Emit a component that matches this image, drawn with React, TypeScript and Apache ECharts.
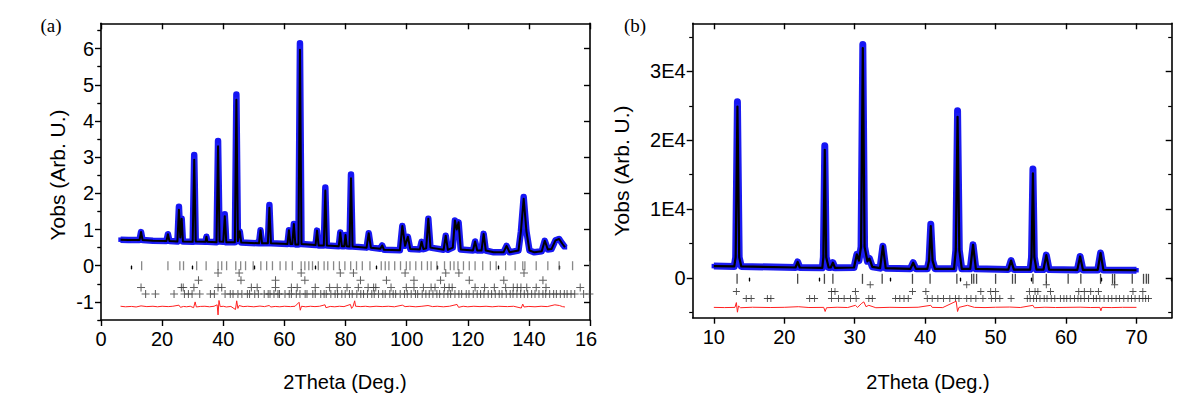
import React, { useEffect, useRef } from "react";
import * as echarts from "echarts";

const FONT = "'Liberation Sans', Arial, Helvetica, sans-serif";
const SERIF = "'Liberation Serif', 'DejaVu Serif', serif";

// ---------- Panel (a) ----------
const xTicksA = [0, 20, 40, 60, 80, 100, 120, 140, 160];
const xMinorA = [10, 30, 50, 70, 90, 110, 130, 150];
const yTicksA = [-1, 0, 1, 2, 3, 4, 5, 6];
const yMinorA = [-1.5, -0.5, 0.5, 1.5, 2.5, 3.5, 4.5, 5.5, 6.5];

// observed intensity [2θ, Yobs]
const obsA: number[][] = [
  [6.4, 0.72], [9, 0.71], [12.6, 0.71], [13.1, 0.93], [13.6, 0.71], [17, 0.69], [21.4, 0.68], [21.9, 0.87], [22.4, 0.68],
  [25.0, 0.67], [25.5, 1.63], [25.95, 0.78], [26.4, 1.3], [26.8, 0.67], [30.0, 0.66], [30.5, 3.06], [31.0, 0.67],
  [34.2, 0.66], [34.5, 0.8], [34.8, 0.66], [37.8, 0.65], [38.3, 3.45], [38.8, 0.67], [40.0, 0.66], [40.5, 1.42], [41.0, 0.65],
  [43.8, 0.65], [44.3, 4.73], [44.8, 0.68], [45.4, 0.95], [45.9, 0.64], [51.7, 0.62], [52.2, 0.98], [52.7, 0.62],
  [54.6, 0.62], [55.1, 1.68], [55.6, 0.62], [61.0, 0.6], [61.5, 0.98], [62.0, 0.6], [62.6, 0.6], [63.1, 1.15], [63.6, 0.59],
  [64.6, 0.59], [65.1, 6.15], [65.6, 0.6], [70.2, 0.57], [70.7, 0.97], [71.2, 0.56], [72.9, 0.56], [73.4, 2.16], [73.9, 0.56],
  [77.8, 0.54], [78.3, 0.92], [78.8, 0.54], [79.6, 0.54], [80.0, 0.85], [80.4, 0.54], [81.3, 0.53], [81.8, 2.52], [82.3, 0.53],
  [86.9, 0.5], [87.6, 0.9], [88.3, 0.5], [91.4, 0.47], [92.0, 0.56], [92.6, 0.44], [97.8, 0.43], [98.6, 1.1], [99.5, 0.55],
  [100.4, 0.8], [101.2, 0.46], [104.3, 0.45], [104.9, 0.66], [105.5, 0.46], [106.4, 0.48], [107.1, 1.3], [107.8, 0.5],
  [112.1, 0.44], [112.8, 0.83], [113.5, 0.44], [115.1, 0.5], [115.8, 1.25], [116.4, 1.0], [117.0, 1.2], [117.7, 0.45],
  [121.7, 0.42], [122.4, 0.67], [123.1, 0.42], [124.5, 0.42], [125.2, 0.88], [125.9, 0.42], [128.5, 0.37], [131.7, 0.37],
  [132.7, 0.55], [133.7, 0.37], [136.6, 0.42], [137.4, 0.95], [138.3, 1.9], [139.2, 0.95], [140.2, 0.42], [141.8, 0.37],
  [144.2, 0.4], [145.2, 0.69], [146.2, 0.45], [147.4, 0.46], [148.7, 0.7], [149.9, 0.74], [151.0, 0.6], [151.8, 0.51],
];
// calculated apex heights where the fit falls short of the observation
const calcPeaksA: number[][] = [
  [25.5, 1.55], [30.5, 2.93], [38.3, 3.3], [40.5, 1.37], [44.3, 4.59], [55.1, 1.6], [65.1, 5.97], [73.4, 2.08], [81.8, 2.42], [138.3, 1.85],
];
// Yobs - Ycalc, shifted
const diffA: number[][] = [
  [6.4, -1.12], [8, -1.135], [10, -1.125], [11.5, -1.14], [13.1, -1.11], [15, -1.13], [17, -1.12], [18.5, -1.135],
  [20, -1.12], [22, -1.13], [23.5, -1.12], [25.5, -1.09], [26, -1.15], [27, -1.125], [28, -1.135], [29.2, -1.12],
  [30.3, -1.16], [30.8, -1.0], [31.2, -1.14], [32.5, -1.125], [34, -1.12], [35.5, -1.135], [37, -1.12], [38.0, -1.08],
  [38.3, -1.36], [38.6, -0.96], [39, -1.13], [40, -1.12], [41, -1.14], [42.5, -1.125], [44.0, -1.21], [44.4, -0.97],
  [44.8, -1.18], [45.2, -1.1], [46.5, -1.13], [48, -1.12], [50, -1.135], [52, -1.115], [53.5, -1.13], [55, -1.1],
  [55.6, -1.14], [57, -1.125], [58.5, -1.135], [60, -1.12], [62, -1.13], [63.5, -1.12], [64.8, -1.01], [65.2, -1.23],
  [65.6, -1.12], [67, -1.135], [68.5, -1.12], [70, -1.13], [71.5, -1.12], [73.3, -1.08], [73.6, -1.16], [75, -1.125],
  [76.5, -1.135], [78, -1.12], [79.5, -1.13], [81.6, -1.07], [82, -1.18], [82.5, -1.12], [83, -0.97], [83.3, -1.12],
  [85, -1.13], [86.5, -1.12], [88, -1.135], [90, -1.12], [92, -1.13], [94, -1.12], [96, -1.135], [98.6, -1.09],
  [99.5, -1.13], [101, -1.12], [103, -1.135], [105, -1.12], [107, -1.1], [108.5, -1.13], [110, -1.12], [112, -1.135],
  [114, -1.12], [116.5, -1.07], [117, -1.15], [118.5, -1.12], [120, -1.135], [122, -1.12], [124, -1.13], [126, -1.12],
  [128, -1.135], [130, -1.12], [133, -1.13], [135, -1.12], [137.5, -1.17], [138, -1.06], [138.4, -1.14], [140, -1.125],
  [142, -1.135], [144, -1.12], [146, -1.13], [148.5, -1.08], [150, -1.1], [151, -1.13], [151.8, -1.14],
];
// reflection markers
const braggA = [
  13.3, 21.9, 25.8, 27.0, 31.3, 34.4, 38.3, 39.5, 41.1, 44.1, 45.7, 47.3, 49.8, 52.3, 54.2, 56.1, 58.6, 60.5, 62.6, 65.5,
  66.7, 68.0, 69.2, 71.1, 73.0, 74.2, 76.1, 78.0, 79.8, 81.7, 83.6, 85.5, 88.0, 91.7, 93.0, 94.2, 96.1, 98.0, 99.9, 101.1,
  103.0, 104.9, 106.8, 108.0, 109.9, 112.4, 114.3, 115.5, 116.8, 118.6, 120.5, 122.4, 124.9, 127.4, 129.3, 132.4, 135.5,
  138.0, 138.7, 142.4, 146.2, 149.9, 154.3, 159.9,
];
const plusA1 = [38.3, 45.2, 65.5, 78.3, 82.6, 99.5, 112.8, 117.1, 138.4];
const plusA2 = [31.9, 45.8, 57.1, 66.7, 84.9, 93.4, 102.4, 111.1, 120.5, 131.8, 144.6];
const plusA3 = [
  13.1, 26.3, 26.9, 30.4, 38.3, 39.5, 49.2, 51.1, 57.1, 62.3, 64.2, 70.1, 74.8, 77.3, 80.5, 84.2, 87.4, 89.2, 89.9, 94.9,
  99.9, 102.4, 105.5, 108.0, 109.3, 112.4, 113.9, 114.9, 122.4, 125.5, 128.7, 132.4, 134.9, 136.2, 137.4, 139.3, 142.4,
  145.6, 156.8,
];
const plusA4 = [
  14.6, 17.8, 23.9, 27.3, 28.6, 29.8, 32.3, 35.8, 37.1, 40.6, 42.3, 43.2, 44.8, 46.1, 47.9, 48.6, 50.3, 51.5, 53.4, 54.7,
  55.3, 56.6, 57.9, 58.4, 60.2, 61.6, 62.3, 63.9, 65.1, 66.8, 67.4, 69.3, 70.1, 71.9, 73.0, 73.7, 75.2, 76.6, 77.4, 78.8,
  79.9, 81.3, 82.2, 83.7, 85.0, 85.9, 87.2, 88.6, 89.4, 90.8, 92.2, 93.0, 94.5, 95.6, 96.4, 97.9, 99.3, 100.2, 101.5, 102.9,
  103.6, 105.1, 106.3, 107.4, 108.6, 109.9, 110.8, 112.2, 113.5, 114.4, 115.8, 117.1, 118.0, 119.5, 120.4, 121.8, 123.1,
  124.2, 125.3, 126.7, 127.8, 129.0, 130.3, 131.2, 132.6, 133.9, 134.8, 136.1, 137.3, 138.5, 139.6, 140.9, 142.0, 143.3,
  144.6, 145.5, 146.8, 148.1, 149.0, 150.3, 151.6, 152.5, 153.8, 155.0, 157.9, 159.8,
];
const plusLevelsA = [-0.2, -0.4, -0.6, -0.78];

// ---------- Panel (b) ----------
const xTicksB = [10, 20, 30, 40, 50, 60, 70];
const xMinorB = [15, 25, 35, 45, 55, 65, 75];
const yTicksB = [0, 10000, 20000, 30000];
const yMinorB = [-5000, 5000, 15000, 25000, 35000];

const obsB: number[][] = [
  [10.0, 1700], [12.9, 1650], [13.1, 3000], [13.35, 25600], [13.6, 3000], [13.9, 1650], [21.6, 1500], [21.9, 2300],
  [22.2, 1500], [25.4, 1450], [25.55, 3000], [25.75, 19200], [25.95, 3000], [26.3, 1500], [26.6, 1500], [26.9, 2200],
  [27.2, 1450], [29.9, 1500], [30.3, 3400], [30.6, 2500], [30.9, 4500], [31.15, 33900], [31.4, 4500], [31.8, 2400],
  [32.1, 2800], [32.5, 1600], [33.6, 1400], [34.0, 4600], [34.4, 1400], [37.9, 1300], [38.3, 2200], [38.7, 1300],
  [40.3, 1300], [40.55, 2500], [40.8, 7800], [41.05, 2500], [41.4, 1300], [44.1, 1300], [44.35, 4000], [44.6, 24300],
  [44.85, 4000], [45.2, 1300], [46.4, 1300], [46.8, 4800], [47.2, 1300], [51.8, 1200], [52.2, 2500], [52.6, 1200],
  [54.9, 1200], [55.1, 3000], [55.3, 15800], [55.5, 3000], [55.8, 1200], [56.8, 1200], [57.2, 3300], [57.6, 1200],
  [61.6, 1150], [62.0, 3100], [62.4, 1150], [64.5, 1150], [64.9, 3600], [65.3, 1150], [70.0, 1100],
];
const calcPeaksB: number[][] = [
  [13.35, 24900], [25.75, 18600], [31.15, 33400], [40.8, 7500], [44.6, 23400], [55.3, 15200],
];
const diffB: number[][] = [
  [10, -4300], [11.5, -4330], [13.0, -4300], [13.2, -3600], [13.35, -5000], [13.5, -4100], [13.8, -4350], [15.5, -4280],
  [18, -4320], [20, -4290], [22, -4200], [23.5, -4320], [25.6, -4300], [25.8, -4900], [26, -4350], [27.5, -4280],
  [29, -4320], [30.1, -4000], [30.4, -4300], [31.0, -3700], [31.3, -3500], [31.6, -4200], [32, -4000], [33, -4350],
  [35, -4290], [37, -4320], [39, -4280], [40.8, -4000], [41, -4300], [42.5, -4330], [44.4, -3400], [44.6, -4900],
  [44.8, -4300], [46, -4000], [47, -4300], [48.5, -4330], [50, -4280], [52, -4250], [53.5, -4320], [55.3, -4000],
  [55.5, -4350], [57, -4280], [58.5, -4320], [60, -4300], [62, -4270], [63.5, -4320], [64.8, -4300], [64.95, -4800],
  [65.1, -4300], [66.5, -4330], [68, -4290], [70, -4300],
];
const braggB = [
  13.3, 21.9, 25.7, 26.9, 31.1, 33.9, 38.2, 40.7, 44.5, 46.6, 46.9, 47.3, 50.0, 52.4, 52.8, 55.3, 57.2, 60.3, 62.1, 64.9,
  66.6, 66.9, 69.4, 71.0, 71.4, 71.7,
];
const plusB1 = [32.2, 45.9, 57.2, 66.9];
const plusB2 = [13.2, 26.7, 27.2, 30.1, 38.2, 40.1, 47.9, 49.3, 50.0, 54.8, 55.6, 56.0, 57.8, 61.8, 62.6, 63.5, 64.6, 69.5, 70.9];
const plusB3 = [
  14.6, 15.3, 17.6, 18.1, 23.6, 24.3, 26.7, 27.7, 28.5, 29.4, 30.2, 32.0, 32.5, 35.8, 36.4, 37.0, 37.6, 40.3, 41.0, 41.8,
  42.6, 43.5, 44.3, 44.8, 45.9, 46.5, 47.2, 48.2, 49.4, 50.0, 50.6, 52.2, 54.5, 54.9, 55.4, 55.8, 56.3, 56.9, 57.3, 57.9,
  58.4, 59.2, 59.7, 60.1, 60.6, 61.2, 61.7, 62.1, 62.6, 63.2, 63.9, 64.3, 64.8, 65.4, 66.0, 66.5, 67.1, 67.6, 68.2, 68.8,
  69.3, 69.8, 70.4, 70.9, 71.3, 71.7,
];
const plusLevelsB = [-1000, -2000, -3000];

const PLUS = "path://M4.35,0H5.65V4.35H10V5.65H5.65V10H4.35V5.65H0V4.35H4.35Z";

function withCalc(obs: number[][], peaks: number[][]) {
  return obs.map(([x, y]) => {
    const p = peaks.find((c) => c[0] === x);
    return [x, p ? p[1] : y];
  });
}

function axisSet(
  dim: "x" | "y",
  side: string,
  min: number,
  max: number,
  major: number[],
  minor: number[],
  inward: boolean,
  labelFmt?: (v: number) => string
) {
  const line = { show: true, onZero: false, lineStyle: { color: "#000", width: 1.6 } };
  const base: any = { type: "value", min, max, position: side, splitLine: { show: false } };
  const mainAxis: any = {
    ...base,
    axisLine: line,
    axisTick: { show: true, inside: inward, length: 6, customValues: major, lineStyle: { color: "#000", width: 1.4 } },
    axisLabel: labelFmt
      ? {
          show: true,
          customValues: major,
          formatter: labelFmt,
          fontSize: 20,
          color: "#000",
          fontFamily: FONT,
          margin: dim === "x" ? 9 : 7,
          // the last bottom label sits at the frame's right edge, trimmed to two digits
          rich: { edge: { fontSize: 20, fontFamily: FONT, color: "#000", padding: [0, 8, 0, 0] } },
        }
      : { show: false },
  };
  const minorAxis: any = {
    ...base,
    axisLine: { show: false },
    axisTick: { show: true, inside: inward, length: 3.5, customValues: minor, lineStyle: { color: "#000", width: 1.2 } },
    axisLabel: { show: false },
  };
  return [mainAxis, minorAxis];
}

function plusRows(rows: number[][], levels: number[]) {
  const out: number[][] = [];
  rows.forEach((r, i) => r.forEach((x) => out.push([x, levels[i]])));
  return out;
}

function buildOption(p: {
  grid: any;
  xMin: number; xMax: number; xMajor: number[]; xMinor: number[];
  xFmt: (v: number) => string;
  yMin: number; yMax: number; yMajor: number[]; yMinor: number[];
  yFmt: (v: number) => string;
  obs: number[][]; calc: number[][]; diff: number[][];
  bragg: number[]; braggY: number; braggSize: number; braggColor: string;
  plus: number[][]; plusSize: number; plusColor: string;
  obsWidth: number; obsSymbol: number; calcWidth: number;
  letter: string; letterPos: number[];
  yTitlePos: number[]; xTitlePos: number[];
}): any {
  const xAxes = [
    ...axisSet("x", "bottom", p.xMin, p.xMax, p.xMajor, p.xMinor, false, p.xFmt),
    ...axisSet("x", "top", p.xMin, p.xMax, p.xMajor, p.xMinor, true),
  ];
  const yAxes = [
    ...axisSet("y", "left", p.yMin, p.yMax, p.yMajor, p.yMinor, false, p.yFmt),
    ...axisSet("y", "right", p.yMin, p.yMax, p.yMajor, p.yMinor, true),
  ];
  return {
    animation: false,
    backgroundColor: "#fff",
    grid: p.grid,
    xAxis: xAxes,
    yAxis: yAxes,
    graphic: [
      {
        type: "text", x: p.letterPos[0], y: p.letterPos[1],
        style: { text: p.letter, font: `19px ${SERIF}`, fill: "#000", align: "center", verticalAlign: "middle" },
      },
      {
        type: "text", x: p.yTitlePos[0], y: p.yTitlePos[1], rotation: Math.PI / 2,
        style: { text: "Yobs (Arb. U.)", font: `21px ${FONT}`, fill: "#000", align: "center", verticalAlign: "middle" },
      },
      {
        type: "text", x: p.xTitlePos[0], y: p.xTitlePos[1],
        style: { text: "2Theta (Deg.)", font: `20px ${FONT}`, fill: "#000", align: "center", verticalAlign: "middle" },
      },
    ],
    series: [
      {
        type: "line", data: p.obs, z: 2, symbol: "rect", symbolSize: p.obsSymbol, showSymbol: true,
        itemStyle: { color: "#1414f5" }, lineStyle: { color: "#1c1cf0", width: p.obsWidth, join: "round" },
        clip: true,
      },
      {
        type: "line", data: p.calc, z: 3, symbol: "none",
        lineStyle: { color: "#000", width: p.calcWidth, join: "round" },
      },
      {
        type: "line", data: p.diff, z: 3, symbol: "none",
        lineStyle: { color: "#ff2020", width: 1 },
      },
      {
        type: "scatter", data: p.bragg.map((x) => [x, p.braggY]), z: 2, symbol: "rect",
        symbolSize: [1.3, p.braggSize], itemStyle: { color: p.braggColor },
      },
      {
        type: "scatter", data: p.plus, z: 2, symbol: PLUS, symbolSize: p.plusSize,
        itemStyle: { color: p.plusColor },
      },
    ],
  };
}

export default function App() {
  const refA = useRef<HTMLDivElement>(null);
  const refB = useRef<HTMLDivElement>(null);

  useEffect(() => {
    if (!refA.current || !refB.current) return;
    const chartA = echarts.init(refA.current, undefined, { renderer: "svg" });
    const chartB = echarts.init(refB.current, undefined, { renderer: "svg" });

    chartA.setOption(
      buildOption({
        grid: { left: 101, top: 23.3, width: 489, height: 296.7, containLabel: false, outerBoundsMode: "none" },
        xMin: 0, xMax: 160, xMajor: xTicksA, xMinor: xMinorA,
        xFmt: (v) => (v === 160 ? "{edge|16}" : String(v)),
        yMin: -1.5, yMax: 6.7, yMajor: yTicksA, yMinor: yMinorA,
        yFmt: (v) => String(v),
        obs: obsA, calc: withCalc(obsA, calcPeaksA), diff: diffA,
        bragg: braggA, braggY: 0, braggSize: 9, braggColor: "#6a6a6a",
        plus: plusRows([plusA1, plusA2, plusA3, plusA4], plusLevelsA), plusSize: 8, plusColor: "#3a3a3a",
        obsWidth: 6.5, obsSymbol: 4.5, calcWidth: 2,
        letter: "(a)", letterPos: [51, 25], yTitlePos: [57, 175], xTitlePos: [345, 382],
      })
    );

    chartB.setOption(
      buildOption({
        grid: { left: 92.7, top: 23.3, width: 479, height: 294.4, containLabel: false, outerBoundsMode: "none" },
        xMin: 7, xMax: 75, xMajor: xTicksB, xMinor: xMinorB,
        xFmt: (v) => String(v),
        yMin: -5800, yMax: 37000, yMajor: yTicksB, yMinor: yMinorB,
        yFmt: (v) => (v === 0 ? "0" : `${v / 10000}E4`),
        obs: obsB, calc: withCalc(obsB, calcPeaksB), diff: diffB,
        bragg: braggB, braggY: -150, braggSize: 10, braggColor: "#1a1a1a",
        plus: plusRows([plusB1, plusB2, plusB3], plusLevelsB), plusSize: 7, plusColor: "#222",
        obsWidth: 7, obsSymbol: 4.5, calcWidth: 2.2,
        letter: "(b)", letterPos: [35, 25], yTitlePos: [21, 171], xTitlePos: [328, 382],
      })
    );

    return () => {
      chartA.dispose();
      chartB.dispose();
    };
  }, []);

  return (
    <div style={{ position: "absolute", left: 0, top: 0, width: 1200, height: 420, background: "#fff", overflow: "hidden" }}>
      <div ref={refA} style={{ position: "absolute", left: 0, top: 0, width: 600, height: 420, overflow: "hidden" }} />
      <div ref={refB} style={{ position: "absolute", left: 600, top: 0, width: 600, height: 420, overflow: "hidden" }} />
    </div>
  );
}
